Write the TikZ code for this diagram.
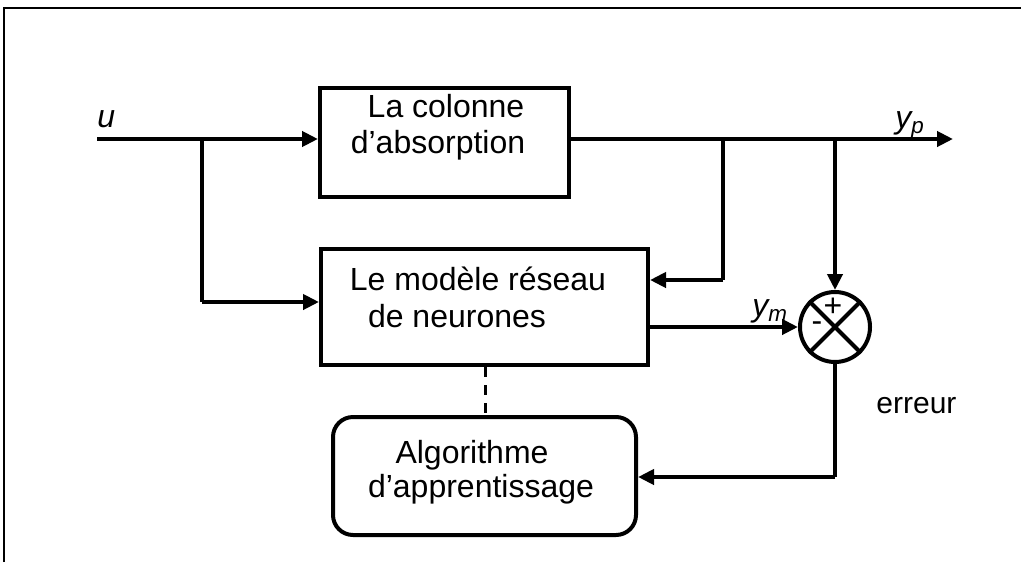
\documentclass[tikz,border=0pt]{standalone}
\usepackage{fontspec}
\setmainfont{Liberation Sans}
\usetikzlibrary{arrows.meta}
\begin{document}
\begin{tikzpicture}[x=0.5pt,y=-0.5pt,
  line/.style={line width=2pt},
  arr/.style={line width=2pt,-{Triangle[length=8pt,width=7.5pt]}},
  blk/.style={draw,line width=2pt,rectangle,inner sep=0pt},
  txt/.style={font=\fontsize{16}{19}\selectfont,anchor=base,inner sep=0pt},
  lbl/.style={font=\fontsize{16}{19}\selectfont\itshape,anchor=base west,inner sep=0pt}]
\useasboundingbox (0,0) rectangle (1021,562);
% frame (cropped)
\draw[line width=1.3pt] (4,562) -- (4,8) -- (1021,8);
% blocks
\node[blk,minimum width=124.5pt,minimum height=54.5pt] (col) at (444.5,142.5) {};
\node[blk,minimum width=163.5pt,minimum height=58pt] (mod) at (484.5,307) {};
\node[blk,rounded corners=10pt,minimum width=151.5pt,minimum height=59pt] (alg) at (484.5,476) {};
\node[draw,circle,line width=2pt,minimum size=35pt,inner sep=0pt] (sum) at (835,327) {};
\draw[line width=2pt] (sum.north west) -- (sum.south east);
\draw[line width=2pt] (sum.north east) -- (sum.south west);
% texts
\node[txt] (t1a) at (446,117) {La colonne};
\node[txt] (t1b) at (438,153) {d’absorption};
\node[txt] (t2a) at (478,290) {Le modèle réseau};
\node[txt] (t2b) at (457,327) {de neurones};
\node[txt] (t3a) at (472,463) {Algorithme};
\node[txt] (t3b) at (481,497) {d’apprentissage};
\node[font=\fontsize{16}{19}\selectfont,inner sep=0pt] (plus) at (833,307) {+};
\node[font=\fontsize{16}{19}\selectfont,inner sep=0pt] (minus) at (817,327) {-};
% labels
\node[lbl] (lu) at (97,127) {u};
\node[lbl] (lyp) at (895,128) {y\textsubscript{p}};
\node[lbl] (lym) at (752,316) {y\textsubscript{m}};
\node[txt,anchor=base west,font=\fontsize{15}{18}\selectfont] (ler) at (876,413) {erreur};
% coordinates
\coordinate (uin) at (97,139);
\coordinate (b1) at (202,139);
\coordinate (b1d) at (202,302);
\coordinate (yout) at (953,139);
\coordinate (b2) at (723,139);
\coordinate (b2d) at (723,280);
\coordinate (b3) at (835,139);
\coordinate (ed) at (835,477);
% connectors
\draw[arr] (uin) -- (uin -| col.west);
\draw[line width=2pt] (b1) -- (b1d);
\draw[arr] (b1d) -- (b1d -| mod.west);
\draw[arr] (col.east |- uin) -- (yout);
\draw[line width=2pt] (b2) -- (b2d);
\draw[arr] (b2d) -- (b2d -| mod.east);
\draw[arr] (b3) -- (sum.north);
\draw[arr] (mod.east |- sum.west) -- (sum.west);
\draw[line width=2pt] (sum.south) -- (ed);
\draw[arr] (ed) -- (ed -| alg.east);
\draw[line width=1.5pt,dash pattern=on 5pt off 4pt] (mod.south -| 485,0) -- (alg.north -| 485,0);
\end{tikzpicture}
\end{document}
